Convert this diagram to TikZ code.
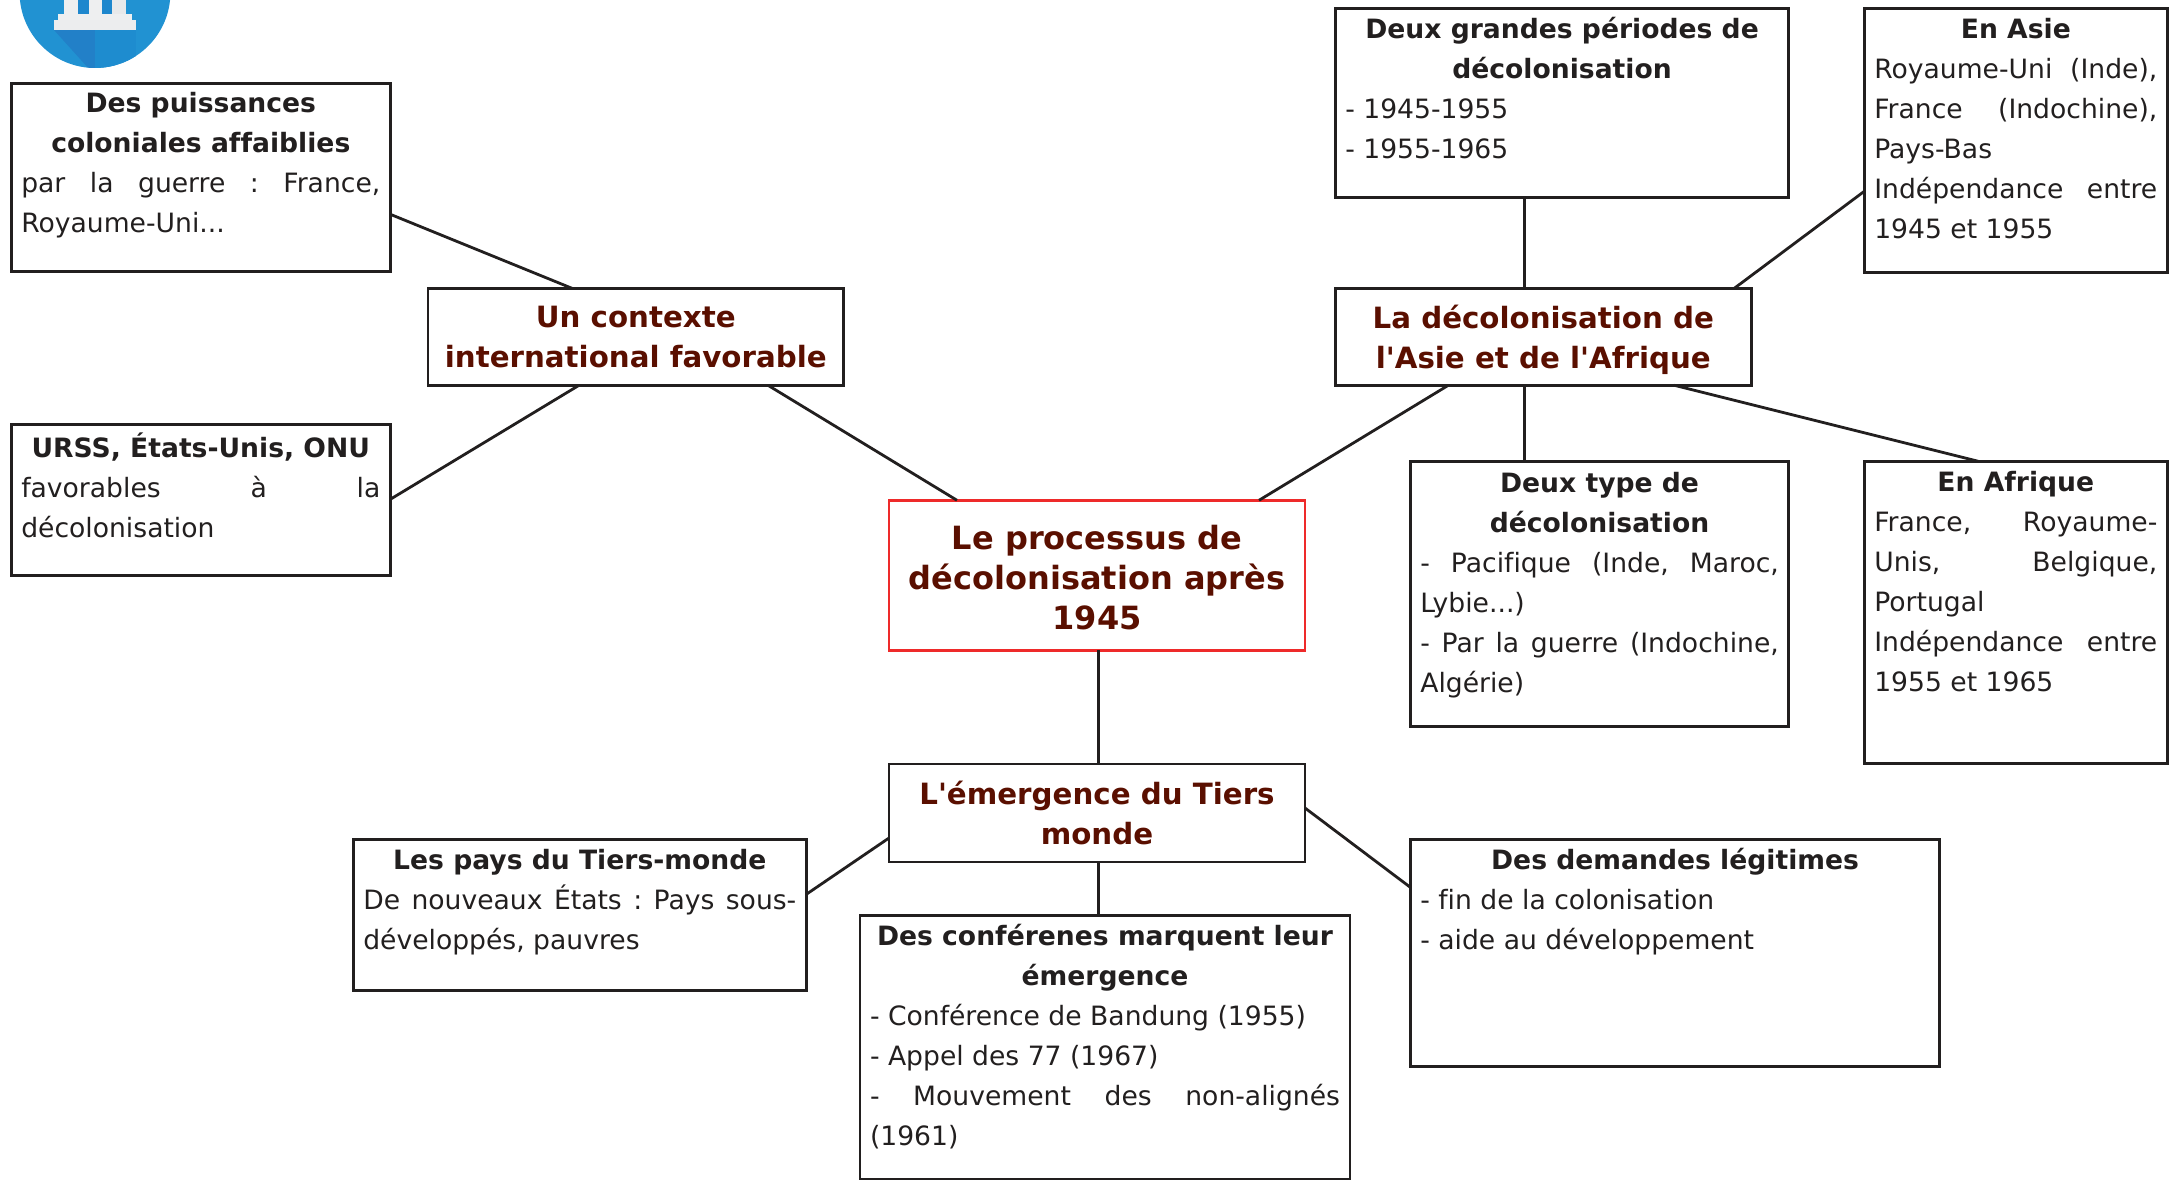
\documentclass[tikz,border=0pt]{standalone}
\usepackage{fontspec}
\setmainfont[Ligatures=NoCommon]{DejaVu Sans}
\usetikzlibrary{calc}
\definecolor{ink}{HTML}{221F1F}
\definecolor{maroon2}{HTML}{5A0F00}
\definecolor{redline}{HTML}{EE2A2A}
\newcommand{\hd}[2][31]{{\centering\bfseries\rule{0pt}{#1pt}#2\par}}
\tikzset{
  x=1pt,y=-1pt,
  sub/.style={draw=ink,text=ink,line width=2.8pt,inner xsep=10pt,inner ysep=0pt,outer sep=0pt,anchor=north west,
    font=\fontsize{26.6}{40}\selectfont\frenchspacing\sloppy},
  mainb/.style={draw=ink,text=maroon2,line width=2.8pt,inner sep=0pt,outer sep=0pt,anchor=north west,
    font=\fontsize{29.3}{40}\selectfont\bfseries\frenchspacing},
  link/.style={draw=ink,line width=2.8pt}
}
\newcommand{\subbox}[6]{\node[sub] (#1) at (#2,#3) {\parbox[c][#5pt][t]{\dimexpr#4pt-20pt\relax}{\setlength{\parindent}{0pt}#6}};}
% name, x, y, w, h, first baseline, style, text
\newcommand{\mainbox}[8]{\node[mainb,#7] (#1) at (#2,#3) {\parbox[c][#5pt][t]{#4pt}{\setlength{\parindent}{0pt}\centering\rule{0pt}{#6pt}#8\par}};}
\begin{document}
\begin{tikzpicture}
\useasboundingbox (0,0) rectangle (2172,1180);
% icon
\begin{scope}
\clip (0,0) rectangle (2172,1180);
\fill[fill={rgb,255:red,33;green,146;blue,210}] (95,-7.4) circle (75.4);
\begin{scope}
\clip (95,-7.4) circle (75.4);
\fill[fill={rgb,255:red,34;green,128;blue,200}] (54,30) -- (95,30) -- (95,70) -- (90,70) -- cycle;
\fill[fill={rgb,255:red,30;green,140;blue,207}] (95,30) -- (136,30) -- (136,75) -- (95,75) -- cycle;
\end{scope}
\fill[fill={rgb,255:red,30;green,135;blue,205}] (78,0) rectangle (112,14);
\fill[fill={rgb,255:red,238;green,239;blue,240}] (64,0) rectangle (78,14);
\fill[fill={rgb,255:red,238;green,239;blue,240}] (89,0) rectangle (102,14);
\fill[fill={rgb,255:red,232;green,233;blue,234}] (112,0) rectangle (126,14);
\fill[fill={rgb,255:red,238;green,239;blue,240}] (58,14) rectangle (132,21);
\fill[fill={rgb,255:red,236;green,237;blue,238}] (54,20) rectangle (136,30);
\end{scope}
% boxes
\subbox{puiss}{11.3}{83.3}{379}{188}{\hd[29.6]{Des puissances\\coloniales affaiblies}par la guerre : France,\linebreak Royaume-Uni...\par}
\subbox{urss}{11.3}{424.3}{379}{151}{\hd[33.3]{URSS, États-Unis, ONU}favorables à la\linebreak décolonisation\par}
\subbox{grandes}{1335.3}{8.3}{453.5}{189}{\hd[30]{Deux grandes périodes de\\décolonisation}- 1945-1955\par - 1955-1965\par}
\subbox{asie}{1864.3}{8.3}{303}{264}{\hd[30]{En Asie}Royaume-Uni (Inde),\linebreak France (Indochine),\linebreak Pays-Bas\par Indépendance entre\linebreak 1945 et 1955\par}
\subbox{type}{1410.3}{461.3}{378.5}{265}{\hd{Deux type de\\décolonisation}- Pacifique (Inde, Maroc,\linebreak Lybie...)\par - Par la guerre (Indochine,\linebreak Algérie)\par}
\subbox{afrique}{1864.3}{461.3}{303}{302}{\hd[30]{En Afrique}France, Royaume-\linebreak Unis, Belgique,\linebreak Portugal\par Indépendance entre\linebreak 1955 et 1965\par}
\subbox{pays}{353.3}{839.3}{453}{151}{\hd[30.5]{Les pays du Tiers-monde}De nouveaux États : Pays sous-\linebreak développés, pauvres\par}
\subbox{conf}{860}{915.3}{490}{264}{\hd[30.5]{Des conférenes marquent leur\\émergence}- Conférence de Bandung (1955)\par - Appel des 77 (1967)\par - Mouvement des non-alignés\linebreak (1961)\par}
\subbox{dem}{1410.3}{839.3}{529.5}{227}{\hd[30.5]{Des demandes légitimes}- fin de la colonisation\par - aide au développement\par}
\mainbox{ctx}{428}{288.3}{415.5}{97}{39}{}{Un contexte\\international favorable}
\mainbox{deco}{1335.3}{288.3}{416}{97}{40}{}{La décolonisation de\\l\textquotesingle Asie et de l\textquotesingle Afrique}
\mainbox{centre}{889}{500.3}{416}{150}{49}{draw=redline,font=\fontsize{32}{40}\selectfont\bfseries\frenchspacing}{Le processus de\\décolonisation après\\1945}
\mainbox{tiers}{889}{764}{416}{98}{40}{}{L\textquotesingle émergence du Tiers\\monde}
% connectors
\draw[link] ($(ctx.north west)+(144,0)$) -- ($(puiss.north east)+(0,131)$);
\draw[link] ($(ctx.south west)+(151,0)$) -- ($(urss.north east)+(0,75)$);
\draw[link] ($(ctx.south west)+(340,0)$) -- ($(centre.north west)+(68,0)$);
\draw[link] ($(deco.south west)+(113,0)$) -- ($(centre.north west)+(370,0)$);
\draw[link] ($(deco.north west)+(189,0)$) -- ($(grandes.south west)+(189,0)$);
\draw[link] ($(deco.north west)+(399,0)$) -- ($(asie.north west)+(0,183)$);
\draw[link] ($(deco.south west)+(189,0)$) -- ($(type.north west)+(114,0)$);
\draw[link] ($(deco.south west)+(339,0)$) -- ($(afrique.north west)+(114,0)$);
\draw[link] ($(centre.south west)+(209.3,0)$) -- ($(tiers.north west)+(209.3,0)$);
\draw[link] ($(tiers.north west)+(0,74)$) -- ($(pays.north east)+(0,55)$);
\draw[link] ($(tiers.south west)+(209.3,0)$) -- ($(conf.north west)+(238.3,0)$);
\draw[link] ($(tiers.north east)+(0,44)$) -- ($(dem.north west)+(0,48)$);
\end{tikzpicture}
\end{document}
